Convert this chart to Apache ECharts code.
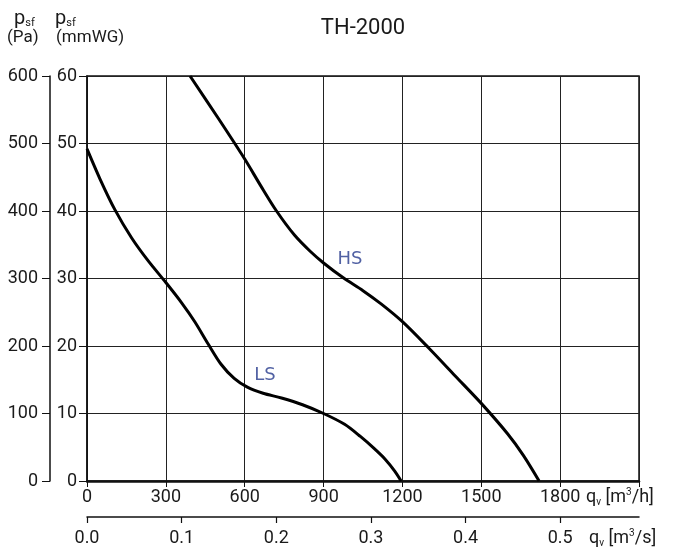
<!DOCTYPE html>
<html>
<head>
<meta charset="utf-8">
<script src="https://cdn.jsdelivr.net/npm/echarts@6/dist/echarts.min.js"></script>
<style>
html,body{margin:0;padding:0;background:#fff;}
#chart{width:673px;height:548px;}
</style>
</head>
<body>
<div id="chart"></div>
<script>
// Flow in m3/h, pressure in Pa
var hsFlow =     [392, 500, 600, 660, 721, 790, 850, 900, 975, 1050, 1120, 1200, 1300, 1400, 1500, 1600, 1660, 1720];
var hsPressure = [600, 537, 477, 438, 400, 364, 340, 323, 301, 282,  262,  236,  197,  156,  115,  70,   38,   0];
var lsFlow =     [0,   50,  106, 170, 233, 300, 360, 410, 461, 510, 560, 610, 670, 740, 820, 900, 980, 1040, 1090, 1135, 1170, 1195];
var lsPressure = [492, 447, 402, 360, 326, 294, 264, 236, 203, 173, 152, 139, 130, 123, 113, 100, 84,  66,   49,   32,   15,   0];
var curveNames = ['HS', 'LS'];
var labelFlow = [1000, 677];
var labelPressure = [329, 156];
var flowTicksMax = 2100;

function pairs(xs, ys){ return xs.map(function(x,i){ return [x, ys[i]]; }); }

var FONT = 'Roboto';
var TXT = '#1a1a1a';
var chart = echarts.init(document.getElementById('chart'));
chart.setOption({
  animation: false,
  grid: {left: 87, right: 34, top: 76, bottom: 67, show: true, borderColor: '#111', borderWidth: 1.5, backgroundColor: 'transparent'},
  xAxis: [
    {type: 'value', min: 0, max: flowTicksMax, interval: 300, position: 'bottom',
     axisLine: {onZero: false, lineStyle: {color: '#111', width: 2.5}},
     axisTick: {show: true, length: 6, lineStyle: {color: '#111', width: 1}},
     axisLabel: {fontFamily: FONT, fontSize: 18, color: TXT, margin: 7,
                 formatter: function(v){ return v === flowTicksMax ? '' : String(v); }},
     splitLine: {show: true, lineStyle: {color: '#222', width: 1}}},
    {type: 'value', min: 0, max: flowTicksMax / 3600, interval: 0.1, position: 'bottom', offset: 36,
     axisLine: {onZero: false, lineStyle: {color: '#111', width: 1.5}},
     axisTick: {show: true, length: 6, lineStyle: {color: '#111', width: 1.2}},
     axisLabel: {fontFamily: FONT, fontSize: 18, color: TXT, margin: 12, showMaxLabel: false,
                 formatter: function(v){ return v.toFixed(1); }},
     splitLine: {show: false}}
  ],
  yAxis: [
    {type: 'value', min: 0, max: 60, interval: 10, position: 'left',
     axisLine: {show: true, onZero: false, lineStyle: {color: '#111', width: 1.5}},
     axisTick: {show: true, length: 8, lineStyle: {color: '#111', width: 1}},
     axisLabel: {fontFamily: FONT, fontSize: 18, color: TXT, margin: 10},
     splitLine: {show: true, lineStyle: {color: '#222', width: 1}}},
    {type: 'value', min: 0, max: 600, interval: 100, position: 'left', offset: 37,
     axisLine: {show: true, onZero: false, lineStyle: {color: '#111', width: 1.5}},
     axisTick: {show: true, length: 8, lineStyle: {color: '#111', width: 1}},
     axisLabel: {fontFamily: FONT, fontSize: 18, color: TXT, margin: 12},
     splitLine: {show: false}}
  ],
  series: [
    {name: curveNames[0], type: 'line', xAxisIndex: 0, yAxisIndex: 1, data: pairs(hsFlow, hsPressure),
     smooth: 0.3, showSymbol: false, lineStyle: {color: '#000', width: 3}, z: 5},
    {name: curveNames[1], type: 'line', xAxisIndex: 0, yAxisIndex: 1, data: pairs(lsFlow, lsPressure),
     smooth: 0.3, showSymbol: false, lineStyle: {color: '#000', width: 3}, z: 5},
    {type: 'scatter', xAxisIndex: 0, yAxisIndex: 1, symbolSize: 0, silent: true,
     data: labelFlow.map(function(x,i){ return {value: [x, labelPressure[i]], name: curveNames[i]}; }),
     label: {show: true, position: 'inside', formatter: '{b}', fontFamily: 'DejaVu Sans', fontSize: 18, color: '#26398c'}}
  ],
  graphic: [
    {type: 'text', x: 363, y: 28, style: {text: 'TH-2000', fontFamily: FONT, fontSize: 22, fill: TXT, align: 'center', verticalAlign: 'middle'}},
    {type: 'text', x: 14, y: 19, style: {text: '{p|p}{s|sf}', align: 'left', verticalAlign: 'middle',
      rich: {p: {fontFamily: FONT, fontSize: 20, fill: TXT, lineHeight: 20}, s: {fontFamily: FONT, fontSize: 11, fill: TXT, lineHeight: 14, verticalAlign: 'bottom'}}}},
    {type: 'text', x: 7, y: 38, style: {text: '(Pa)', fontFamily: FONT, fontSize: 17, fill: TXT, align: 'left', verticalAlign: 'middle'}},
    {type: 'text', x: 55, y: 19, style: {text: '{p|p}{s|sf}', align: 'left', verticalAlign: 'middle',
      rich: {p: {fontFamily: FONT, fontSize: 20, fill: TXT, lineHeight: 20}, s: {fontFamily: FONT, fontSize: 11, fill: TXT, lineHeight: 14, verticalAlign: 'bottom'}}}},
    {type: 'text', x: 56, y: 38, style: {text: '(mmWG)', fontFamily: FONT, fontSize: 17, fill: TXT, align: 'left', verticalAlign: 'middle'}},
    {type: 'text', x: 586, y: 497, style: {text: '{a|q}{b|v}{a| [m}{c|3}{a|/h]}', align: 'left', verticalAlign: 'middle',
      rich: {a: {fontFamily: FONT, fontSize: 18, fill: TXT, lineHeight: 20},
             b: {fontFamily: FONT, fontSize: 10, fill: TXT, lineHeight: 12, verticalAlign: 'bottom'},
             c: {fontFamily: FONT, fontSize: 10, fill: TXT, lineHeight: 12, verticalAlign: 'top'}}}},
    {type: 'text', x: 589, y: 538, style: {text: '{a|q}{b|v}{a| [m}{c|3}{a|/s]}', align: 'left', verticalAlign: 'middle',
      rich: {a: {fontFamily: FONT, fontSize: 18, fill: TXT, lineHeight: 20},
             b: {fontFamily: FONT, fontSize: 10, fill: TXT, lineHeight: 12, verticalAlign: 'bottom'},
             c: {fontFamily: FONT, fontSize: 10, fill: TXT, lineHeight: 12, verticalAlign: 'top'}}}}
  ]
});
</script>
</body>
</html>
